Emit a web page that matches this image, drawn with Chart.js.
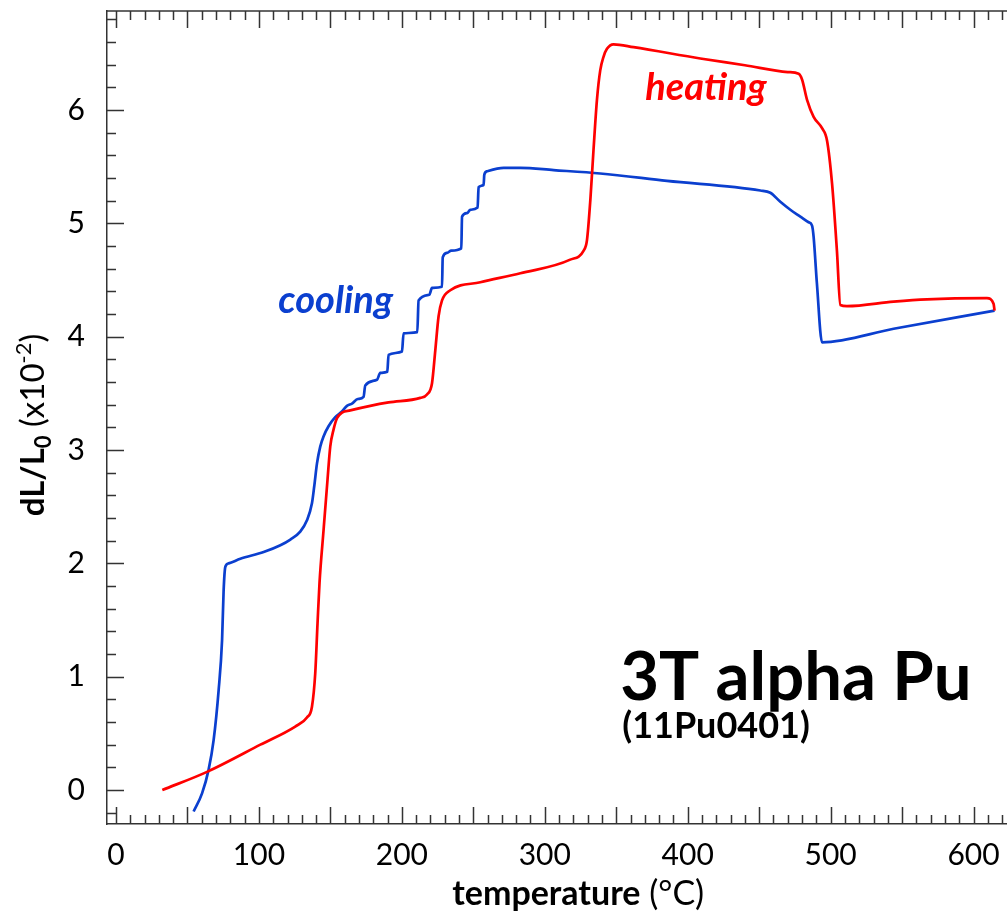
<!DOCTYPE html>
<html>
<head>
<meta charset="utf-8">
<script src="https://cdn.jsdelivr.net/npm/chart.js@4.4.1/dist/chart.umd.min.js"></script>
<style>
  body { margin: 0; background: #fff; }
  canvas { display: block; }
</style>
</head>
<body>
<canvas id="chart" width="1007" height="920"></canvas>
<script>
// heating run (red), temperature in C and dL/L0 in units of 1e-2
const heatingTemp = [32.4, 63.7, 101.0, 125.4, 133.6, 137.1, 139.4, 141.0, 142.4, 145.2, 148.0, 149.9, 152.2, 154.6, 158.1, 163.9, 177.9, 190.7, 212.9, 217.6, 221.1, 223.4, 225.7, 228.1, 233.9, 254.9, 282.9, 317.8, 327.2, 329.5, 331.9, 334.1, 336.5, 338.8, 341.1, 343.5, 348.1, 362.1, 408.8, 440.0, 470.0, 477.6, 480.0, 483.5, 488.1, 494.0, 497.5, 501.0, 504.4, 506.8, 511.4, 544.1, 567.4, 609.4, 614.0, 614.7];
const heatingDL = [0.00, 0.16, 0.40, 0.56, 0.64, 0.735, 1.03, 1.47, 1.83, 2.29, 2.74, 3.03, 3.18, 3.28, 3.33, 3.35, 3.39, 3.42, 3.46, 3.49, 3.59, 3.88, 4.18, 4.32, 4.41, 4.48, 4.56, 4.68, 4.76, 4.85, 5.21, 5.65, 6.09, 6.35, 6.47, 6.54, 6.58, 6.555, 6.455, 6.395, 6.335, 6.32, 6.27, 6.09, 5.94, 5.84, 5.73, 5.35, 4.76, 4.28, 4.27, 4.31, 4.33, 4.34, 4.29, 4.23];

// cooling run (blue), from the top temperature down
const coolingTemp = [614.7, 544.1, 494.0, 490.4, 488.1, 487.0, 484.6, 478.8, 471.8, 464.8, 457.8, 450.8, 385.5, 338.8, 306.2, 282.9, 271.2, 259.6, 257.7, 257.2, 253.7, 253.0, 247.9, 245.6, 242.1, 241.6, 234.6, 231.6, 228.6, 228.1, 221.1, 219.2, 211.7, 210.8, 201.2, 200.1, 190.7, 189.8, 184.9, 182.6, 174.4, 173.2, 169.2, 165.1, 161.6, 158.1, 153.4, 148.7, 145.2, 142.9, 140.6, 138.7, 137.1, 133.6, 128.9, 122.0, 115.0, 103.3, 87.0, 78.8, 76.5, 75.3, 74.2, 71.8, 68.3, 64.8, 60.2, 54.3];
const coolingDL = [4.23, 4.07, 3.95, 4.47, 4.88, 4.98, 5.01, 5.06, 5.12, 5.19, 5.27, 5.29, 5.375, 5.44, 5.47, 5.49, 5.49, 5.46, 5.43, 5.34, 5.32, 5.14, 5.12, 5.09, 5.06, 4.78, 4.76, 4.74, 4.70, 4.44, 4.43, 4.37, 4.32, 4.04, 4.03, 3.87, 3.84, 3.69, 3.68, 3.62, 3.57, 3.47, 3.45, 3.41, 3.39, 3.34, 3.29, 3.21, 3.12, 3.03, 2.88, 2.68, 2.53, 2.38, 2.28, 2.21, 2.16, 2.10, 2.04, 2.00, 1.97, 1.76, 1.32, 0.88, 0.44, 0.18, -0.03, -0.19];

const xTickLabels = [0, 100, 200, 300, 400, 500, 600];
const yTickLabels = [0, 1, 2, 3, 4, 5, 6];

const RED = '#ff0000';
const BLUE = '#0b3fcf';
const AXIS = '#333333';

function toPoints(xs, ys) {
    return xs.map((x, i) => ({ x: x, y: ys[i] }));
}

// draws text made of several runs with their own fonts
function drawRuns(ctx, runs, x, y) {
    let cx = x;
    runs.forEach(r => {
        ctx.font = r.font;
        ctx.fillText(r.text, cx, y + (r.dy || 0));
        cx += ctx.measureText(r.text).width;
    });
}
function runsWidth(ctx, runs) {
    let w = 0;
    runs.forEach(r => { ctx.font = r.font; w += ctx.measureText(r.text).width; });
    return w;
}

const framePlugin = {
    id: 'frame',
    afterDraw(chart) {
        const ctx = chart.ctx;
        const area = chart.chartArea;
        const xs = chart.scales.x;
        const ys = chart.scales.y;
        ctx.save();
        ctx.strokeStyle = AXIS;
        ctx.lineWidth = 1.5;

        // top border
        ctx.beginPath();
        ctx.moveTo(area.left, area.top);
        ctx.lineTo(area.right, area.top);
        ctx.stroke();

        // inward ticks on x (bottom and top)
        ctx.beginPath();
        for (let v = Math.ceil(xs.min / 10) * 10; v <= xs.max; v += 10) {
            const px = Math.round(xs.getPixelForValue(v)) + 0.5;
            const len = v % 50 === 0 ? 17 : 9;
            ctx.moveTo(px, area.bottom);
            ctx.lineTo(px, area.bottom - len);
            ctx.moveTo(px, area.top);
            ctx.lineTo(px, area.top + len);
        }
        // inward ticks on y (left)
        for (let i = Math.ceil(ys.min / 0.2); i * 0.2 <= ys.max; i++) {
            const v = i * 0.2;
            const py = Math.round(ys.getPixelForValue(v)) + 0.5;
            const len = i % 5 === 0 ? 17 : 9;
            ctx.moveTo(area.left, py);
            ctx.lineTo(area.left + len, py);
        }
        ctx.stroke();

        // labels inside the plot
        ctx.textBaseline = 'alphabetic';
        ctx.textAlign = 'left';
        ctx.fillStyle = RED;
        ctx.font = 'italic bold 38px Lato';
        ctx.fillText('heating', xs.getPixelForValue(370.3), ys.getPixelForValue(6.09));
        ctx.fillStyle = BLUE;
        ctx.fillText('cooling', xs.getPixelForValue(113.6), ys.getPixelForValue(4.21));

        ctx.fillStyle = '#000';
        ctx.font = 'bold 67px Lato';
        ctx.fillText('3T alpha Pu', xs.getPixelForValue(352.8), ys.getPixelForValue(0.79));
        ctx.font = 'bold 36px Lato';
        ctx.fillText('(11Pu0401)', xs.getPixelForValue(354.2), ys.getPixelForValue(0.46));

        // x axis title
        const xRuns = [
            { text: 'temperature', font: 'bold 34px Lato' },
            { text: ' (\u00B0C)', font: '34px Lato' }
        ];
        const xw = runsWidth(ctx, xRuns);
        const xc = xs.getPixelForValue(323.4);
        drawRuns(ctx, xRuns, xc - xw / 2, 905);

        // y axis title, rotated
        const yRuns = [
            { text: 'dL/L', font: 'bold 33px Lato' },
            { text: '0', font: 'bold 22px Lato', dy: 7 },
            { text: ' (x10', font: '33px Lato' },
            { text: '-2', font: '22px Lato', dy: -13 },
            { text: ')', font: '33px Lato' }
        ];
        const yw = runsWidth(ctx, yRuns);
        ctx.translate(44, 425);
        ctx.rotate(-Math.PI / 2);
        drawRuns(ctx, yRuns, -yw / 2, 0);
        ctx.restore();
    }
};

new Chart(document.getElementById('chart'), {
    type: 'line',
    data: {
        datasets: [{
            label: 'heating',
            data: toPoints(heatingTemp, heatingDL),
            borderColor: RED,
            borderWidth: 2.7,
            pointRadius: 0,
            cubicInterpolationMode: 'monotone',
            fill: false
        }, {
            label: 'cooling',
            data: toPoints(coolingTemp, coolingDL),
            borderColor: BLUE,
            borderWidth: 2.7,
            pointRadius: 0,
            cubicInterpolationMode: 'monotone',
            fill: false
        }]
    },
    options: {
        responsive: false,
        animation: false,
        devicePixelRatio: 1,
        layout: { padding: { top: 11, right: 0, left: 0, bottom: 0 } },
        plugins: {
            legend: { display: false },
            tooltip: { enabled: false }
        },
        scales: {
            x: {
                type: 'linear',
                min: -6.3,
                max: 623.4,
                grid: { display: false, drawTicks: false },
                border: { display: true, color: AXIS, width: 1.5 },
                afterBuildTicks: s => { s.ticks = xTickLabels.map(v => ({ value: v })); },
                afterFit: s => { s.height = 96; s.paddingLeft = 0; s.paddingRight = 0; },
                ticks: {
                    padding: 13,
                    color: '#000',
                    maxRotation: 0,
                    font: { family: 'Lato', size: 30 }
                }
            },
            y: {
                type: 'linear',
                min: -0.3,
                max: 6.874,
                grid: { display: false, drawTicks: false },
                border: { display: true, color: AXIS, width: 1.5 },
                afterBuildTicks: s => { s.ticks = yTickLabels.map(v => ({ value: v })); },
                afterFit: s => { s.width = 107; s.paddingTop = 0; s.paddingBottom = 0; },
                ticks: {
                    padding: 22,
                    color: '#000',
                    font: { family: 'Lato', size: 30 }
                }
            }
        }
    },
    plugins: [framePlugin]
});
</script>
</body>
</html>
